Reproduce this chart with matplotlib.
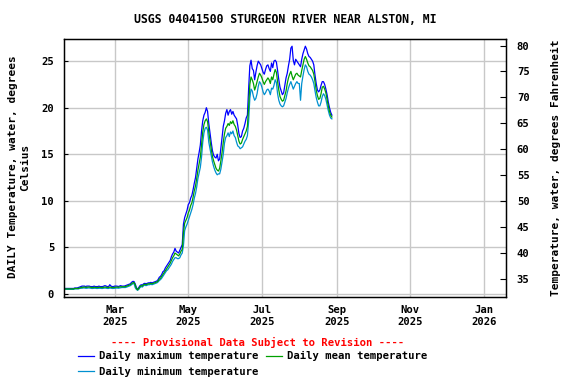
import numpy as np
import pandas as pd
import matplotlib
matplotlib.use("Agg")
import matplotlib.pyplot as plt
import matplotlib.dates as mdates

# daily values, deg C, starting 2025-01-19
t_mean = [
    0.55, 0.55, 0.55, 0.55, 0.55, 0.55, 0.55, 0.55, 0.6, 0.6, 0.6, 0.6, 0.65, 0.7,
    0.72, 0.75, 0.75, 0.72, 0.72, 0.75, 0.75, 0.72, 0.7, 0.7, 0.72, 0.72, 0.7, 0.7,
    0.72, 0.72, 0.7, 0.7, 0.72, 0.75, 0.72, 0.7, 0.7, 0.75, 0.72, 0.7, 0.7, 0.72,
    0.75, 0.75, 0.72, 0.75, 0.78, 0.78, 0.78, 0.78, 0.8,
    0.85, 0.9, 0.95, 1.0, 1.1, 1.2, 1.25,
    1.0, 0.6, 0.45,
    0.6, 0.8, 0.9, 0.85, 1.0, 1.05,
    1.0, 1.05, 1.1, 1.1, 1.15, 1.1, 1.15, 1.2, 1.25, 1.3,
    1.4, 1.6, 1.7, 1.9, 2.1, 2.3, 2.5, 2.7, 2.9, 3.1, 3.3, 3.6, 3.9, 4.1,
    4.4, 4.3, 4.2, 4.1, 4.3, 4.6, 4.8,
    6.6, 7.6, 7.9, 8.2, 8.7, 9.0,
    9.5, 9.8, 10.4, 11.1, 11.6, 12.4,
    13.3, 14.0, 14.7, 16.0, 17.4,
    18.2, 18.6, 18.8, 18.5, 17.4,
    16.5, 15.6, 14.8, 14.3, 13.9, 13.5, 13.3, 13.2,
    13.5, 14.3, 15.2, 16.3, 17.2, 17.8,
    18.0, 18.3, 18.1, 18.5, 18.3, 18.6, 18.2, 18.0, 17.6, 17.0,
    16.4, 16.1, 16.2, 16.6, 16.9, 17.2, 17.5, 18.0,
    20.1, 22.5, 23.3, 23.0, 22.6, 21.9, 22.3,
    22.8, 23.3, 23.7, 23.5, 23.2, 22.8, 22.5, 22.8, 23.0, 23.2,
    23.0, 22.6, 23.3, 23.0, 23.6, 24.1, 23.8,
    22.8, 21.9, 21.2, 20.9, 20.7, 20.8, 21.3, 21.8,
    22.6, 23.2, 23.6, 23.9, 23.4, 23.0, 23.3, 23.6, 23.7, 23.5,
    23.4, 23.3, 24.0, 24.6, 25.2, 25.5,
    25.2, 24.8, 24.5, 24.4, 24.2, 24.0, 23.6, 22.8,
    21.9, 21.3, 20.9, 21.0, 21.5, 22.2,
    22.3, 22.0, 21.6, 20.9, 20.2, 19.6, 19.2, 19.0,
]

t_max = [
    0.6, 0.6, 0.6, 0.6, 0.6, 0.6, 0.6, 0.6, 0.65, 0.65, 0.65, 0.7, 0.75, 0.8,
    0.85, 0.85, 0.85, 0.8, 0.85, 0.85, 0.85, 0.8, 0.8, 0.8, 0.85, 0.8, 0.8, 0.8,
    0.85, 0.8, 0.8, 0.8, 0.85, 0.9, 0.85, 0.8, 0.8, 1.0, 0.85, 0.8, 0.8, 0.85,
    0.85, 0.85, 0.8, 0.85, 0.9, 0.85, 0.85, 0.85, 0.9,
    0.95, 1.0, 1.05, 1.1, 1.25, 1.35, 1.35,
    1.1, 0.7, 0.5,
    0.7, 0.9, 1.0, 0.95, 1.1, 1.15,
    1.1, 1.15, 1.2, 1.2, 1.25, 1.2, 1.25, 1.3, 1.35, 1.4,
    1.55, 1.8, 1.9, 2.1, 2.4, 2.5, 2.8, 3.0, 3.2, 3.4, 3.6, 4.0, 4.3, 4.5,
    4.9, 4.6, 4.5, 4.4, 4.7, 5.0, 5.3,
    7.5, 8.2, 8.6, 9.0, 9.6, 9.8,
    10.3, 10.6, 11.2, 11.9, 12.5, 13.5,
    14.5, 15.2, 16.0, 17.5, 18.6,
    19.2, 19.5, 20.0, 19.6, 18.3,
    17.3, 16.3, 15.4, 14.9, 14.7, 14.6, 15.0, 14.3,
    14.5, 15.6, 16.8, 18.0, 18.6, 19.4,
    19.8, 19.2, 19.6, 19.8, 19.3, 19.6, 19.2, 19.0, 18.8, 18.1,
    17.2, 16.8, 16.9, 17.5, 17.8, 18.3, 18.9, 19.2,
    22.0, 24.5, 25.1, 24.2, 24.0, 23.0, 23.8,
    24.5, 25.0, 24.8, 24.6, 24.2, 23.8, 23.6, 24.1, 24.5, 24.6,
    24.2, 23.9, 24.8, 24.3, 25.0, 25.1, 24.9,
    24.0, 23.0, 22.2, 21.8, 21.4, 21.6, 22.4, 23.2,
    23.7, 24.5, 25.2, 26.4, 26.6, 25.1, 24.6, 25.2, 25.0, 24.8,
    24.6, 24.4, 25.2, 25.8, 26.2, 26.6,
    26.3, 25.8, 25.5, 25.4, 25.2, 25.0, 24.6, 23.5,
    22.6, 21.9, 21.7, 21.9, 22.4, 22.8,
    22.8, 22.5, 22.0, 21.4, 20.6, 20.0, 19.5, 19.2,
]

t_min = [
    0.5, 0.5, 0.5, 0.5, 0.5, 0.5, 0.5, 0.5, 0.55, 0.55, 0.55, 0.55, 0.6, 0.62,
    0.62, 0.65, 0.65, 0.62, 0.62, 0.65, 0.65, 0.62, 0.6, 0.6, 0.62, 0.62, 0.6, 0.6,
    0.62, 0.62, 0.6, 0.6, 0.62, 0.65, 0.62, 0.6, 0.6, 0.65, 0.62, 0.6, 0.6, 0.62,
    0.65, 0.65, 0.62, 0.65, 0.68, 0.7, 0.7, 0.7, 0.7,
    0.75, 0.8, 0.85, 0.9, 1.0, 1.1, 1.15,
    0.7, 0.5, 0.4,
    0.5, 0.7, 0.8, 0.75, 0.9, 0.95,
    0.9, 0.95, 1.0, 1.0, 1.05, 1.0, 1.05, 1.1, 1.15, 1.2,
    1.3, 1.45, 1.55, 1.7, 1.9, 2.1, 2.3, 2.5, 2.6, 2.8, 3.0, 3.2, 3.5, 3.7,
    3.9, 3.9, 3.8, 3.8, 3.9, 4.2, 4.4,
    5.2, 6.8, 7.2, 7.5, 7.9, 8.3,
    8.7, 9.1, 9.6, 10.3, 10.8, 11.5,
    12.4, 13.0, 13.6, 14.7, 16.3,
    17.3, 17.8, 17.9, 17.6, 16.3,
    15.6, 14.9, 14.2, 13.7, 13.3, 13.0, 12.8, 12.9,
    12.9, 13.4, 14.2, 15.0, 16.2, 16.8,
    17.0, 17.3, 16.9, 17.4, 17.2, 17.5, 17.0, 16.8, 16.3, 15.9,
    15.8, 15.6, 15.7, 15.8, 16.1, 16.4, 16.6, 17.0,
    18.5, 21.0, 22.0, 21.8, 21.2, 20.8, 21.0,
    21.5, 22.3, 22.8, 22.6, 22.2, 21.7, 21.4, 21.6, 21.9, 22.0,
    21.8, 21.4, 22.1, 22.0, 22.4, 23.0, 22.7,
    21.5, 20.8, 20.4, 20.2, 20.1, 20.2, 20.6, 21.0,
    21.6, 22.1, 22.5, 22.8, 22.4, 22.0, 22.3, 22.6, 22.8, 22.6,
    22.6, 20.8, 22.6, 23.4, 24.1, 24.6,
    24.4, 23.9, 23.6, 23.5, 23.3, 23.0, 22.6, 21.8,
    21.1, 20.6, 20.2, 20.2, 20.6, 21.2,
    21.5, 21.3, 20.9, 20.3, 19.7, 19.2, 18.9, 18.8,
]

dates = pd.date_range("2025-01-19", periods=len(t_mean), freq="D")

plt.rcParams['font.family'] = ['DejaVu Sans Mono']
plt.rcParams['font.weight'] = 'bold'

fig = plt.figure(figsize=(5.76, 3.84), dpi=100)
ax = fig.add_axes([0.111, 0.227, 0.767, 0.672])

ax.plot(dates, t_max, c='#0000ff', lw=0.9, label='Daily maximum temperature')
ax.plot(dates, t_min, c='#0090d0', lw=0.9, label='Daily minimum temperature')
ax.plot(dates, t_mean, c='#00a000', lw=0.9, label='Daily mean temperature')

ylo, yhi = -0.3, 27.4
ax.set_ylim(ylo, yhi)
ax.set_xlim(pd.Timestamp("2025-01-18"), pd.Timestamp("2026-01-19"))
ax.set_yticks([0, 5, 10, 15, 20, 25])
ax.xaxis.set_major_locator(mdates.MonthLocator(bymonth=[1, 3, 5, 7, 9, 11]))
ax.xaxis.set_major_formatter(mdates.DateFormatter('%b\n%Y'))
ax.grid(True, color='#c8c8c8', lw=1.0)
ax.set_axisbelow(True)
ax.tick_params(axis='y', direction='in', length=3, pad=7, labelsize=7.6)
ax.tick_params(axis='x', length=0, pad=6, labelsize=7.6)
for s in ax.spines.values():
    s.set_linewidth(1.0)

ax2 = ax.twinx()
ax2.set_ylim(ylo * 1.8 + 32, yhi * 1.8 + 32)
ax2.set_yticks([35, 40, 45, 50, 55, 60, 65, 70, 75, 80])
ax2.tick_params(axis='y', direction='in', length=4, pad=8, labelsize=7.6)

fig.text(0.495, 0.948, 'USGS 04041500 STURGEON RIVER NEAR ALSTON, MI',
         ha='center', va='center', fontsize=8.3)
fig.text(0.022, 0.565, 'DAILY Temperature, water, degrees', rotation=90,
         ha='center', va='center', fontsize=8)
fig.text(0.043, 0.565, 'Celsius', rotation=90, ha='center', va='center', fontsize=8)
fig.text(0.966, 0.562, 'Temperature, water, degrees Fahrenheit', rotation=90,
         ha='center', va='center', fontsize=8)
fig.text(0.448, 0.107, '---- Provisional Data Subject to Revision ----',
         ha='center', va='center', fontsize=7.6, color='red')

fig.legend(loc='upper left', bbox_to_anchor=(0.135, 0.085), ncol=2, frameon=False,
           fontsize=7.6, handlelength=1.5, handletextpad=0.5, columnspacing=0.75,
           labelspacing=0.5, borderpad=0, borderaxespad=0)

fig.savefig('out.png', dpi=100)
